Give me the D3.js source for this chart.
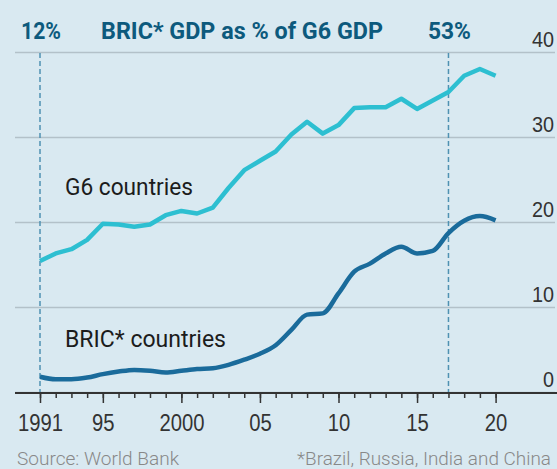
<!DOCTYPE html>
<html>
<head>
<meta charset="utf-8">
<script src="https://cdn.jsdelivr.net/npm/d3@7/dist/d3.min.js"></script>
<style>
body { margin: 0; background: #d9e9f1; }
svg { display: block; font-family: Roboto, "Open Sans", sans-serif; }
</style>
</head>
<body>
<svg id="chart" width="557" height="469"></svg>
<script>
// values, GDP in $trn
var years = [1991, 1992, 1993, 1994, 1995, 1996, 1997, 1998, 1999, 2000,
             2001, 2002, 2003, 2004, 2005, 2006, 2007, 2008, 2009, 2010,
             2011, 2012, 2013, 2014, 2015, 2016, 2017, 2018, 2019, 2020];
var g6 = [15.4, 16.3, 16.8, 17.9, 19.8, 19.7, 19.45, 19.7, 20.8, 21.3,
          21.0, 21.7, 24.0, 26.1, 27.2, 28.3, 30.3, 31.8, 30.4, 31.4,
          33.4, 33.5, 33.5, 34.5, 33.3, 34.3, 35.3, 37.2, 38.0, 37.2];
var bric = [1.8, 1.5, 1.5, 1.7, 2.1, 2.4, 2.6, 2.5, 2.3, 2.5,
            2.7, 2.8, 3.2, 3.8, 4.5, 5.5, 7.3, 9.1, 9.25, 11.6,
            14.15, 15.1, 16.3, 17.1, 16.3, 16.6, 18.7, 20.15, 20.7, 20.2];
var xMajor = [1991, 1995, 2000, 2005, 2010, 2015, 2020];
var xMajorLabels = ['1991', '95', '2000', '05', '10', '15', '20'];
var yTicks = [0, 10, 20, 30, 40];
var markers = [{ year: 1991, label: '12%' }, { year: 2017, label: '53%' }];

var svg = d3.select('#chart');

var x = d3.scaleLinear().domain([1991, 2020]).range([40, 495.6]);
var y = d3.scaleLinear().domain([0, 40]).range([392, 52]);

// squeeze text to a given width (condensed look)
var fit = function(sel, w) {
    sel.attr('textLength', w).attr('lengthAdjust', 'spacingAndGlyphs');
};
var condense = function(sel, k) {
    sel.each(function() {
        var w = this.getComputedTextLength();
        d3.select(this).attr('textLength', w * k).attr('lengthAdjust', 'spacingAndGlyphs');
    });
};

// gridlines + right labels
var yAxis = svg.append('g')
    .attr('transform', 'translate(15,0)')
    .call(d3.axisRight(y).tickValues(yTicks).tickSize(540));
yAxis.select('.domain').remove();
yAxis.selectAll('.tick line')
    .attr('stroke', '#b3c1c9')
    .attr('stroke-width', 1.5);
yAxis.selectAll('.tick text')
    .attr('x', 539)
    .attr('y', -5.5)
    .attr('dy', 0)
    .attr('text-anchor', 'end')
    .attr('fill', '#333')
    .style('font-size', '22px')
    .style('font-weight', 300)
    .call(condense, 0.9);

// dashed marker lines
svg.selectAll('.marker')
    .data(markers)
    .enter().append('line')
    .attr('class', 'marker')
    .attr('x1', function(d) { return x(d.year); })
    .attr('x2', function(d) { return x(d.year); })
    .attr('y1', y(40) + 1)
    .attr('y2', y(0))
    .attr('stroke', '#4f91b2')
    .attr('stroke-width', 1.5)
    .attr('stroke-dasharray', '5,3');

// lines
var g6Line = d3.line()
    .x(function(d, i) { return x(years[i]); })
    .y(function(d) { return y(d); });
var bricLine = d3.line()
    .curve(d3.curveMonotoneX)
    .x(function(d, i) { return x(years[i]); })
    .y(function(d) { return y(d); });

svg.append('path')
    .attr('d', g6Line(g6))
    .attr('fill', 'none')
    .attr('stroke', '#2dbfd1')
    .attr('stroke-width', 4.5)
    .attr('stroke-linejoin', 'round');

svg.append('path')
    .attr('d', bricLine(bric))
    .attr('fill', 'none')
    .attr('stroke', '#1a6b9b')
    .attr('stroke-width', 4.5)
    .attr('stroke-linejoin', 'round');

// x axis
svg.append('line')
    .attr('x1', 15).attr('x2', 557)
    .attr('y1', y(0) + 1).attr('y2', y(0) + 1)
    .attr('stroke', '#333')
    .attr('stroke-width', 2);

var minor = svg.append('g')
    .attr('transform', 'translate(0,' + (y(0) + 1) + ')')
    .call(d3.axisBottom(x).tickValues(years).tickSize(5).tickFormat(''));
minor.select('.domain').remove();
minor.selectAll('.tick line').attr('stroke', '#333').attr('stroke-width', 1.5);

var major = svg.append('g')
    .attr('transform', 'translate(0,' + (y(0) + 1) + ')')
    .call(d3.axisBottom(x).tickValues(xMajor).tickSize(10)
        .tickFormat(function(d, i) { return xMajorLabels[i]; }));
major.select('.domain').remove();
major.selectAll('.tick line').attr('stroke', '#333').attr('stroke-width', 1.5);
major.selectAll('.tick text')
    .attr('y', 38)
    .attr('dy', 0)
    .attr('fill', '#333')
    .style('font-size', '23px')
    .style('font-weight', 300)
    .call(condense, 0.88);

// title row
svg.append('text')
    .attr('x', 101).attr('y', 39)
    .attr('fill', '#0d5a7d')
    .style('font-size', '23px')
    .style('font-weight', 700)
    .text('BRIC* GDP as % of G6 GDP')
    .call(fit, 282);

svg.selectAll('.mlabel')
    .data(markers)
    .enter().append('text')
    .attr('class', 'mlabel')
    .attr('x', function(d) { return x(d.year) + 1; })
    .attr('y', 39)
    .attr('text-anchor', 'middle')
    .attr('fill', '#0d5a7d')
    .style('font-size', '23px')
    .style('font-weight', 700)
    .text(function(d) { return d.label; })
    .each(function(d, i) { d3.select(this).call(fit, i === 0 ? 40 : 43); });

// series labels
svg.append('text')
    .attr('x', 65).attr('y', 195)
    .attr('fill', '#1c1c1c')
    .style('font-size', '24px')
    .text('G6 countries')
    .call(fit, 128);

svg.append('text')
    .attr('x', 65).attr('y', 346.5)
    .attr('fill', '#1c1c1c')
    .style('font-size', '24px')
    .text('BRIC* countries')
    .call(fit, 161);

// footer
svg.append('text')
    .attr('x', 17).attr('y', 465)
    .attr('fill', '#888')
    .style('font-size', '19px')
    .style('font-weight', 300)
    .text('Source: World Bank')
    .call(fit, 162);

svg.append('text')
    .attr('x', 551).attr('y', 465)
    .attr('text-anchor', 'end')
    .attr('fill', '#888')
    .style('font-size', '19px')
    .style('font-weight', 300)
    .text('*Brazil, Russia, India and China')
    .call(fit, 254);
</script>
</body>
</html>
